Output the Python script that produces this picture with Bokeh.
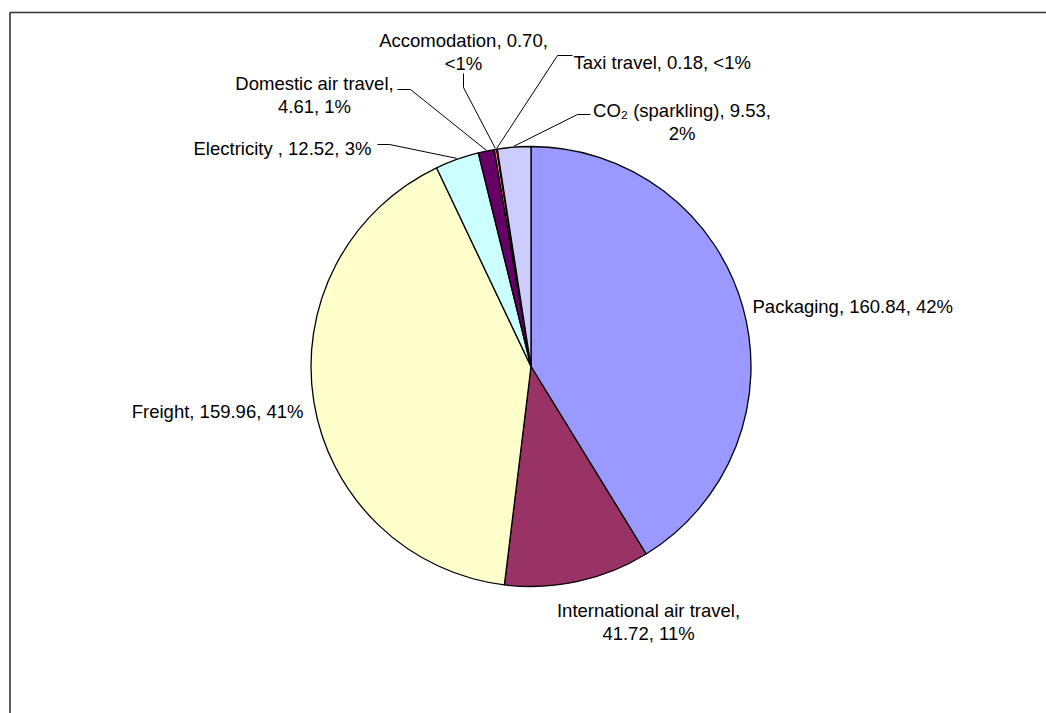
import math
from bokeh.plotting import figure
from bokeh.models import Range1d, ColumnDataSource
from bokeh.embed import file_html
from bokeh.resources import INLINE
from bokeh.core.properties import value

# ---- data ----
categories = ["Packaging", "International air travel", "Freight", "Electricity ",
              "Domestic air travel", "Accomodation", "Taxi travel", "CO\u2082 (sparkling)"]
values = [160.84, 41.72, 159.96, 12.52, 4.61, 0.70, 0.18, 9.53]
percent_labels = ["42%", "11%", "41%", "3%", "1%", "<1%", "<1%", "2%"]

# ---- styles / layout ----
colors = ["#9999FF", "#993366", "#FFFFCC", "#CCFFFF", "#660066", "#FF8080", "#0066CC", "#CCCCFF"]
W, H = 1046, 713
CX, CY, R = 530.5, 366.0, 220.0       # pie centre / radius in page pixels
FONT = "Liberation Sans"
FS = "18.5px"
LINE_H = 22.5
# parts on first line, anchor x, first baseline y, align
first_line_parts = [3, 1, 3, 3, 1, 2, 3, 2]
label_x = [752, 648, 303, 193, 314, 463, 573, 681.5]
label_y = [306, 610, 411, 148, 83, 40, 61.7, 110]
label_align = ["left", "center", "right", "left", "center", "center", "left", "center"]
# leader-line elbows (None = no leader)
leader_elbows = [None, None, None,
                 [(377, 144), (389, 144)],
                 [(397, 89), (410, 89)],
                 [(463, 73), (463, 87)],
                 [(572, 55), (557, 55)],
                 [(590, 114), (577, 114)]]

p = figure(width=W, height=H, output_backend="svg", toolbar_location=None,
           x_range=Range1d(0, W), y_range=Range1d(-H, 0),
           x_axis_location=None, y_axis_location=None, min_border=0,
           background_fill_color="white", border_fill_color="white")
p.outline_line_color = None
p.xgrid.visible = False
p.ygrid.visible = False

# frame (top and left borders of the chart area)
p.line([9.5, 9.5, 1100], [-800, -12, -12], line_color="#333333", line_width=1.6)

# ---- wedges ----
total = sum(values)
starts, ends, mids = [], [], []
cum = 0.0
for v in values:
    a0 = cum / total * 2 * math.pi
    cum += v
    a1 = cum / total * 2 * math.pi
    starts.append(math.pi / 2 - a0)
    ends.append(math.pi / 2 - a1)
    mids.append((a0 + a1) / 2)

src = ColumnDataSource(dict(start=starts, end=ends, color=colors, cat=categories))
p.wedge(x=CX, y=-CY, radius=R, start_angle="start", end_angle="end",
        direction="clock", fill_color="color", line_color="black", line_width=1.3,
        source=src)

# ---- leader lines ----
for i, elb in enumerate(leader_elbows):
    if elb is None:
        continue
    px = CX + (R + 1) * math.sin(mids[i])
    py = CY - (R + 1) * math.cos(mids[i])
    xs = [e[0] for e in elb] + [px]
    ys = [-e[1] for e in elb] + [-py]
    p.line(xs, ys, line_color="black", line_width=1)

# ---- labels ----
for i, cat in enumerate(categories):
    parts = [cat + ",", f"{values[i]:.2f},", percent_labels[i]]
    n = first_line_parts[i]
    lines = [" ".join(parts[:n])]
    if n < 3:
        lines.append(" ".join(parts[n:]))
    for k, ln in enumerate(lines):
        p.text(x=[label_x[i]], y=[-(label_y[i] + k * LINE_H)], text=[ln],
               text_font=value(FONT), text_font_size=FS, text_color="black",
               text_align=label_align[i], text_baseline="alphabetic")

open("out.html", "w").write(file_html(p, INLINE))
